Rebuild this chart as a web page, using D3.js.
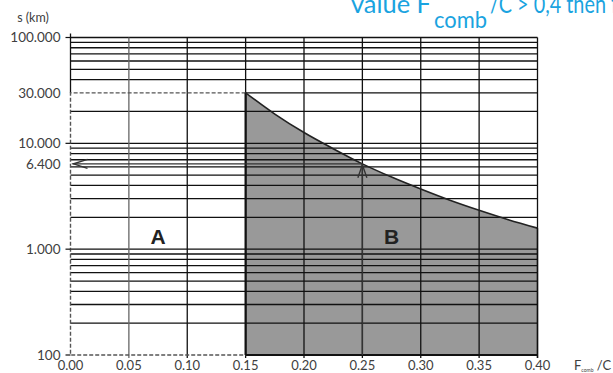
<!DOCTYPE html>
<html><head><meta charset="utf-8">
<script src="https://cdn.jsdelivr.net/npm/d3@7"></script>
<style>body{margin:0;background:#fff}svg{display:block}</style></head>
<body>
<svg id="c" width="613" height="373"></svg>
<script>
// ---- data ----
const xTickValues = [0, 0.05, 0.10, 0.15, 0.20, 0.25, 0.30, 0.35, 0.40];
const xTickLabels = ["0.00","0.05","0.10","0.15","0.20","0.25","0.30","0.35","0.40"];
const yTickValues = [100, 1000, 6400, 10000, 30000, 100000];
const yTickLabels = ["100","1.000","6.400","10.000","30.000","100.000"];
const curveX = [0.15, 0.175, 0.20, 0.225, 0.25, 0.275, 0.30, 0.325, 0.35, 0.375, 0.40];
const curveS = [30000, 18900, 12650, 8900, 6400, 4800, 3700, 2900, 2330, 1900, 1580];
const boundaryX = 0.15, boundaryS = 30000;
const readX = 0.25, readS = 6400;
const zoneLabels = ["A", "B"];
const zoneX = [0.075, 0.275];
const zoneS = [1300, 1300];

// ---- layout ----
const svg = d3.select("#c");
const x = d3.scaleLinear().domain([0, 0.40]).range([70.5, 537.5]);
const y = d3.scaleLog().domain([100, 100000]).range([355, 37.5]);
const font = "Lato, 'Liberation Sans', sans-serif";
const boldFont = "'Liberation Sans', Arial, sans-serif";

// shaded region B
const pts = curveX.map((v, i) => [v, curveS[i]]);
const area = d3.area().x(d => x(d[0])).y0(y(100)).y1(d => y(d[1])).curve(d3.curveMonotoneX);
svg.append("path").attr("d", area(pts)).attr("fill", "#999999");

// minor log grid lines
const gridVals = [];
[100, 1000, 10000].forEach(d => { for (let k = 1; k <= 9; k++) gridVals.push(d * k); });
gridVals.push(100000);
svg.append("g").selectAll("line").data(gridVals.filter(v => v !== 100 && v !== 30000)).join("line")
  .attr("x1", x(0)).attr("x2", x(0.40))
  .attr("y1", d => y(d)).attr("y2", d => y(d))
  .attr("stroke", "#111").attr("stroke-width", 1.3);
svg.append("line").attr("x1", x(boundaryX)).attr("x2", x(0.40))
  .attr("y1", y(30000)).attr("y2", y(30000)).attr("stroke", "#111").attr("stroke-width", 1.3);

// vertical grid lines
svg.append("g").selectAll("line").data(xTickValues.filter(v => v > 0)).join("line")
  .attr("x1", d => x(d)).attr("x2", d => x(d))
  .attr("y1", y(100000)).attr("y2", y(100) + 3)
  .attr("stroke", d => d === 0.05 ? "#666" : "#111").attr("stroke-width", 1.3);

// bottom line for B
svg.append("line").attr("x1", x(boundaryX)).attr("x2", x(0.40))
  .attr("y1", y(100)).attr("y2", y(100)).attr("stroke", "#111").attr("stroke-width", 2);

// left axis: solid above 30000
svg.append("line").attr("x1", x(0)).attr("x2", x(0))
  .attr("y1", y(100000) - 4).attr("y2", y(30000)).attr("stroke", "#111").attr("stroke-width", 1.3);

// dashed box for A
svg.append("path")
  .attr("d", d3.line()([[x(boundaryX), y(30000)], [x(0), y(30000)], [x(0), y(100)], [x(boundaryX), y(100)]]))
  .attr("fill", "none").attr("stroke", "#555").attr("stroke-width", 1.4).attr("stroke-dasharray", "4,2");

// y ticks
svg.append("g").selectAll("line").data(yTickValues.filter(v => v !== 6400 && v !== 30000)).join("line")
  .attr("x1", x(0) - 5).attr("x2", x(0))
  .attr("y1", d => y(d)).attr("y2", d => y(d))
  .attr("stroke", "#111").attr("stroke-width", 1.2);
svg.append("g").selectAll("text").data(yTickValues).join("text")
  .attr("x", x(0) - 10).attr("y", d => y(d)).attr("dy", "0.35em")
  .attr("text-anchor", "end").attr("font-family", font).attr("font-size", 13.5).attr("fill", "#404040")
  .text((d, i) => yTickLabels[i]);

// x tick labels
svg.append("g").selectAll("text").data(xTickValues).join("text")
  .attr("x", d => x(d)).attr("y", 370)
  .attr("text-anchor", "middle").attr("font-family", font).attr("font-size", 13).attr("fill", "#404040")
  .text((d, i) => xTickLabels[i]);

// boundary line at 0.15
svg.append("line").attr("x1", x(boundaryX)).attr("x2", x(boundaryX))
  .attr("y1", y(100)).attr("y2", y(boundaryS)).attr("stroke", "#111").attr("stroke-width", 2.2);

// curve
const line = d3.line().x(d => x(d[0])).y(d => y(d[1])).curve(d3.curveMonotoneX);
svg.append("path").attr("d", line(pts)).attr("fill", "none").attr("stroke", "#222").attr("stroke-width", 1.6);
svg.append("line").attr("x1", x(0.40)).attr("x2", x(0.40))
  .attr("y1", y(curveS[curveS.length - 1])).attr("y2", y(100) + 3).attr("stroke", "#111").attr("stroke-width", 1.4);

// reading arrows
const ax = x(readX), ay = y(readS);
svg.append("line").attr("x1", ax).attr("x2", x(0) + 2).attr("y1", ay).attr("y2", ay)
  .attr("stroke", "#333").attr("stroke-width", 1.4);
svg.append("path").attr("d", d3.line()([[x(0) + 17, ay - 4.5], [x(0) + 3, ay], [x(0) + 17, ay + 4.5]]))
  .attr("fill", "none").attr("stroke", "#333").attr("stroke-width", 1.4);
svg.append("line").attr("x1", ax).attr("x2", ax).attr("y1", y(100)).attr("y2", ay + 1)
  .attr("stroke", "#333").attr("stroke-width", 1.4);
svg.append("path").attr("d", d3.line()([[ax - 4.5, ay + 14], [ax, ay + 1], [ax + 4.5, ay + 14]]))
  .attr("fill", "none").attr("stroke", "#333").attr("stroke-width", 1.4);

// zone labels
svg.append("g").selectAll("text").data(zoneLabels).join("text")
  .attr("x", (d, i) => x(zoneX[i])).attr("y", (d, i) => y(zoneS[i])).attr("dy", "0.35em")
  .attr("text-anchor", "middle").attr("font-family", boldFont).attr("font-weight", "bold")
  .attr("font-size", 21).attr("fill", "#222").text(d => d);

// axis titles
svg.append("text").attr("x", 33).attr("y", 22).attr("text-anchor", "middle")
  .attr("font-family", font).attr("font-size", 12.5).attr("fill", "#404040").text("s (km)");
const xt = svg.append("text").attr("x", 574).attr("y", 370)
  .attr("font-family", font).attr("font-size", 13).attr("fill", "#404040");
xt.append("tspan").text("F");
xt.append("tspan").attr("font-size", 5).attr("dy", 2).text("comb");
xt.append("tspan").attr("dy", -2).text(" /C");

// title (partially cut off at the top edge, as in the reference)
const tt = svg.append("text").attr("x", 351).attr("y", 13)
  .attr("font-family", font).attr("font-size", 25).attr("fill", "#1aa3e0");
tt.append("tspan").attr("textLength", 80).attr("lengthAdjust", "spacingAndGlyphs").text("value F");
tt.append("tspan").attr("x", 434).attr("dy", 15).attr("font-size", 23)
  .attr("textLength", 53).attr("lengthAdjust", "spacingAndGlyphs").text("comb");
tt.append("tspan").attr("x", 490).attr("dy", -15)
  .attr("textLength", 128).attr("lengthAdjust", "spacingAndGlyphs").text("/C > 0,4 then f");
</script>
</body></html>
